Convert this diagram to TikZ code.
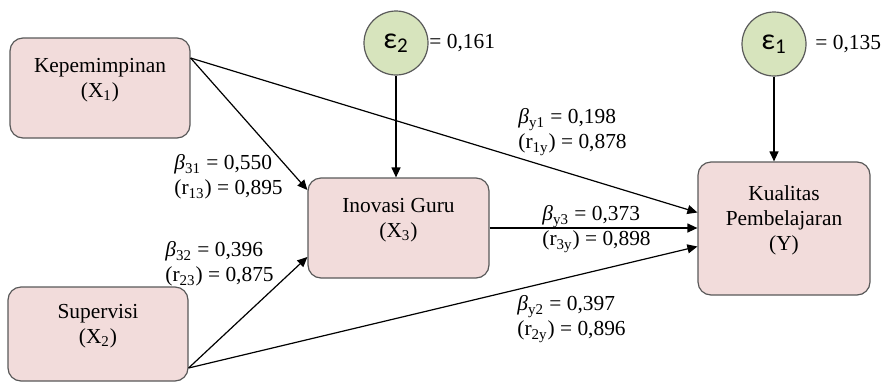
\documentclass[tikz,border=0pt]{standalone}
\usepackage{fontspec}
\setmainfont{Liberation Serif}
\newfontfamily\epsfont{Carlito}
\usetikzlibrary{arrows.meta, positioning}
\definecolor{boxpink}{RGB}{242,220,219}
\definecolor{errgreen}{RGB}{215,228,189}
\definecolor{edgegray}{RGB}{89,89,89}

\begin{document}
\begin{tikzpicture}[
  x=0.5pt, y=-0.5pt,
  font=\rmfamily\fontsize{10.7}{12.5}\selectfont, >={Triangle[length=5pt,width=4.5pt]},
  var/.style={rectangle, rounded corners=6.5pt, draw=edgegray, fill=boxpink,
              line width=0.6pt, align=center, text depth=10pt, inner sep=0pt},
  err/.style={circle, draw=edgegray, fill=errgreen, line width=0.6pt,
              minimum size=32pt, inner sep=0pt,
              font=\epsfont\fontsize{15}{18}\selectfont},
  arr/.style={->, line width=0.6pt},
  coef/.style={anchor=west, align=left, inner sep=0pt},
]
\useasboundingbox (0,0) rectangle (882,381);
\node[var, minimum width=90pt, minimum height=50pt]   (X1) at (100,88)    {Kepemimpinan\\(X\textsubscript{1})};
\node[var, minimum width=90pt, minimum height=47pt]   (X2) at (98,334)    {Supervisi\\(X\textsubscript{2})};
\node[var, minimum width=90.5pt, minimum height=50pt] (X3) at (398.5,228) {Inovasi Guru\\(X\textsubscript{3})};
\node[var, minimum width=86pt, minimum height=66.5pt] (Y)  at (784,228.5) {Kualitas\\Pembelajaran\\(Y)};
\node[err] (e2) at (396,43) {ε\textsubscript{2}};
\node[err] (e1) at (774,44) {ε\textsubscript{1}};
\node[coef] (res2) at (429,43) {= 0,161};
\node[coef] (res1) at (815,44) {= 0,135};
% koefisien jalur
\node[coef] (b31) at (174,177) {\textit{β}\textsubscript{31} = 0,550\\(r\textsubscript{13}) = 0,895};
\node[coef] (b32) at (165,264) {\textit{β}\textsubscript{32} = 0,396\\(r\textsubscript{23}) = 0,875};
\node[coef] (by1) at (518,132) {\textit{β}\textsubscript{y1} = 0,198\\(r\textsubscript{1y}) = 0,878};
\node[coef] (by3) at (542,229) {\textit{β}\textsubscript{y3} = 0,373\\(r\textsubscript{3y}) = 0,898};
\node[coef] (by2) at (517,319) {\textit{β}\textsubscript{y2} = 0,397\\(r\textsubscript{2y}) = 0,896};
\draw[arr] ([yshift=15pt]X1.east) -- ([yshift=19pt]X3.west);
\draw[arr] ([yshift=15pt]X1.east) -- ([yshift=8pt]Y.west);
\draw[arr] ([yshift=-17pt]X2.east) -- ([yshift=-14.5pt]X3.west);
\draw[arr] ([yshift=-17pt]X2.east) -- ([yshift=-9pt]Y.west);
\draw[arr] (X3.east) -- (X3.east -| Y.west);
\draw[arr] (e2.south) -- (e2.south |- X3.north);
\draw[arr] (e1.south) -- (e1.south |- Y.north);
\end{tikzpicture}
\end{document}
